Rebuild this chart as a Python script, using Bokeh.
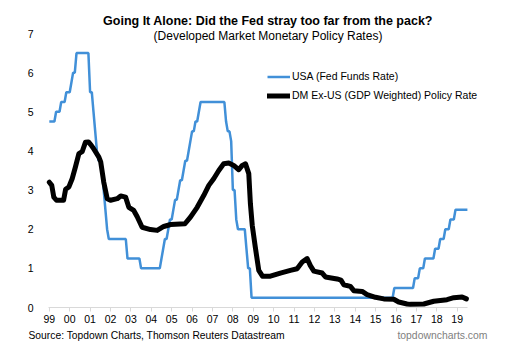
from bokeh.plotting import figure
from bokeh.models import Range1d, FixedTicker, Label, Legend, LegendItem
from bokeh.embed import file_html
from bokeh.resources import INLINE

title_text = "Going It Alone: Did the Fed stray too far from the pack?"
subtitle_text = "(Developed Market Monetary Policy Rates)"
source_text = "Source: Topdown Charts, Thomson Reuters Datastream"
brand_text = "topdowncharts.com"
series_names = ["USA (Fed Funds Rate)", "DM Ex-US (GDP Weighted) Policy Rate"]

year_ticks = list(range(1999, 2020))
year_labels = ["99", "00", "01", "02", "03", "04", "05", "06", "07", "08", "09",
               "10", "11", "12", "13", "14", "15", "16", "17", "18", "19"]
y_ticks = [0, 1, 2, 3, 4, 5, 6, 7]

# USA Fed Funds rate, monthly from Jan 1999
usa_start = 1999
usa_rate = [
    4.75, 4.75, 4.75, 4.75, 5.00, 5.00, 5.00, 5.25, 5.25, 5.25, 5.50, 5.50,  # 1999
    5.50, 5.75, 6.00, 6.00, 6.50, 6.50, 6.50, 6.50, 6.50, 6.50, 6.50, 6.50,  # 2000
    5.50, 5.50, 5.00, 4.50, 4.00, 3.75, 3.75, 3.50, 3.00, 2.50, 2.00, 1.75,  # 2001
    1.75, 1.75, 1.75, 1.75, 1.75, 1.75, 1.75, 1.75, 1.75, 1.75, 1.25, 1.25,  # 2002
    1.25, 1.25, 1.25, 1.25, 1.25, 1.25, 1.00, 1.00, 1.00, 1.00, 1.00, 1.00,  # 2003
    1.00, 1.00, 1.00, 1.00, 1.00, 1.00, 1.25, 1.50, 1.75, 1.75, 2.00, 2.25,  # 2004
    2.25, 2.50, 2.75, 2.75, 3.00, 3.25, 3.25, 3.50, 3.75, 3.75, 4.00, 4.25,  # 2005
    4.50, 4.50, 4.75, 4.75, 5.00, 5.25, 5.25, 5.25, 5.25, 5.25, 5.25, 5.25,  # 2006
    5.25, 5.25, 5.25, 5.25, 5.25, 5.25, 5.25, 5.25, 4.75, 4.50, 4.50, 4.25,  # 2007
    3.00, 3.00, 2.25, 2.00, 2.00, 2.00, 2.00, 2.00, 1.50, 1.00, 1.00, 0.25,  # 2008
    0.25, 0.25, 0.25, 0.25, 0.25, 0.25, 0.25, 0.25, 0.25, 0.25, 0.25, 0.25,  # 2009
    0.25, 0.25, 0.25, 0.25, 0.25, 0.25, 0.25, 0.25, 0.25, 0.25, 0.25, 0.25,  # 2010
    0.25, 0.25, 0.25, 0.25, 0.25, 0.25, 0.25, 0.25, 0.25, 0.25, 0.25, 0.25,  # 2011
    0.25, 0.25, 0.25, 0.25, 0.25, 0.25, 0.25, 0.25, 0.25, 0.25, 0.25, 0.25,  # 2012
    0.25, 0.25, 0.25, 0.25, 0.25, 0.25, 0.25, 0.25, 0.25, 0.25, 0.25, 0.25,  # 2013
    0.25, 0.25, 0.25, 0.25, 0.25, 0.25, 0.25, 0.25, 0.25, 0.25, 0.25, 0.25,  # 2014
    0.25, 0.25, 0.25, 0.25, 0.25, 0.25, 0.25, 0.25, 0.25, 0.25, 0.25, 0.50,  # 2015
    0.50, 0.50, 0.50, 0.50, 0.50, 0.50, 0.50, 0.50, 0.50, 0.50, 0.50, 0.75,  # 2016
    0.75, 0.75, 1.00, 1.00, 1.00, 1.25, 1.25, 1.25, 1.25, 1.25, 1.25, 1.50,  # 2017
    1.50, 1.50, 1.75, 1.75, 1.75, 2.00, 2.00, 2.00, 2.25, 2.25, 2.25, 2.50,  # 2018
    2.50, 2.50, 2.50, 2.50, 2.50, 2.50, 2.50,                                # 2019
]

# DM ex-US GDP-weighted policy rate (dates as decimal years)
dm_dates = [
    1999.00, 1999.12, 1999.22, 1999.35, 1999.70, 1999.80, 1999.96, 2000.12,
    2000.28, 2000.45, 2000.61, 2000.77, 2000.92, 2001.05, 2001.18, 2001.43,
    2001.52, 2001.67, 2001.84, 2002.00, 2002.33, 2002.50, 2002.74, 2002.90,
    2003.14, 2003.31, 2003.55, 2003.96, 2004.29, 2004.61, 2004.95, 2005.65,
    2005.92, 2006.25, 2006.57, 2006.82, 2007.06, 2007.31, 2007.55, 2007.80,
    2008.04, 2008.29, 2008.46, 2008.62, 2008.78, 2008.86, 2008.95, 2009.10,
    2009.27, 2009.45, 2009.84, 2010.33, 2010.82, 2011.15, 2011.40, 2011.64,
    2011.80, 2011.97, 2012.38, 2012.54, 2013.11, 2013.30, 2013.44, 2013.76,
    2013.93, 2014.34, 2014.58, 2014.99, 2015.40, 2015.89, 2016.13, 2016.54,
    2016.70, 2017.36, 2017.85, 2018.50, 2018.83, 2019.24, 2019.45,
]
dm_rate = [
    3.20, 3.12, 2.82, 2.74, 2.74, 3.02, 3.08, 3.29,
    3.59, 3.93, 3.98, 4.22, 4.23, 4.15, 4.05, 3.84,
    3.72, 3.20, 2.78, 2.74, 2.78, 2.85, 2.82, 2.56,
    2.48, 2.32, 2.05, 1.99, 1.97, 2.07, 2.12, 2.14,
    2.31, 2.56, 2.86, 3.12, 3.29, 3.50, 3.67, 3.69,
    3.63, 3.52, 3.63, 3.67, 3.42, 2.65, 2.10, 1.54,
    0.95, 0.80, 0.80, 0.88, 0.95, 0.99, 1.16, 1.25,
    1.07, 0.93, 0.88, 0.78, 0.73, 0.70, 0.58, 0.54,
    0.43, 0.41, 0.33, 0.26, 0.22, 0.21, 0.14, 0.09,
    0.08, 0.09, 0.16, 0.20, 0.25, 0.27, 0.22,
]

usa_dates = [usa_start + i / 12 for i in range(len(usa_rate))]

FONT = "Liberation Sans"

# ---- layout geometry (pixels) ----
W, H = 524, 362
axis_x0, axis_x1 = 1998.96, 2019.48     # visible extent of the x axis
axis_left_px, axis_right_px = 48.0, 466.5
zero_px, seven_px = 307.0, 33.0          # page y of value 0 and value 7
px_per_year = (axis_right_px - axis_left_px) / (axis_x1 - axis_x0)
px_per_unit = (zero_px - seven_px) / 7.0
x_start = axis_x0 - axis_left_px / px_per_year
x_end = axis_x0 + (W - axis_left_px) / px_per_year
y_end = zero_px / px_per_unit
y_start = -(H - zero_px) / px_per_unit

p = figure(width=W, height=H, output_backend="svg", toolbar_location=None,
           title=None, x_range=Range1d(x_start, x_end),
           y_range=Range1d(y_start, y_end),
           min_border=0, min_border_left=0, min_border_right=0,
           min_border_top=0, min_border_bottom=0)
p.outline_line_color = None
p.xgrid.visible = False
p.ygrid.visible = False
p.background_fill_color = "white"
p.border_fill_color = "white"

r_us = p.line(usa_dates, usa_rate, line_color="#4190d8", line_width=2.5)
r_dm = p.line(dm_dates, dm_rate, line_color="#000000", line_width=5,
              line_join="round", line_cap="round")

xa = p.xaxis[0]
xa.fixed_location = 0
xa.bounds = (axis_x0, axis_x1)
xa.ticker = FixedTicker(ticks=year_ticks)
xa.major_label_overrides = {t: l for t, l in zip(year_ticks, year_labels)}
xa.axis_line_color = "#d9d9d9"
xa.major_tick_line_color = "#d9d9d9"
xa.major_tick_out = 4
xa.major_tick_in = 0
xa.minor_tick_line_color = None
xa.major_label_standoff = 3
xa.major_label_text_font = FONT
xa.major_label_text_font_size = "10.5px"
xa.major_label_text_color = "#000000"

ya = p.yaxis[0]
ya.fixed_location = axis_x0
ya.bounds = (0, 7)
ya.ticker = FixedTicker(ticks=y_ticks)
ya.axis_line_color = None
ya.major_tick_line_color = None
ya.minor_tick_line_color = None
ya.major_label_standoff = 9
ya.major_label_text_font = FONT
ya.major_label_text_font_size = "10.5px"
ya.major_label_text_color = "#000000"

legend = Legend(items=[LegendItem(label=series_names[0], renderers=[r_us]),
                       LegendItem(label=series_names[1], renderers=[r_dm])],
                location=(267, H - 104.5), orientation="vertical",
                border_line_color=None, background_fill_alpha=0,
                padding=0, margin=0, spacing=0,
                glyph_width=23, glyph_height=19, label_height=19,
                label_standoff=2, label_text_font=FONT,
                label_text_font_size="10.5px", label_text_color="#000000")
p.add_layout(legend)

p.add_layout(Label(x=267.5, y=H - 20.5, x_units="screen", y_units="screen",
                   text=title_text, text_align="center", text_baseline="middle",
                   text_font=FONT, text_font_size="12.5px", text_font_style="bold",
                   text_color="#000000"))
p.add_layout(Label(x=267.5, y=H - 35.5, x_units="screen", y_units="screen",
                   text=subtitle_text, text_align="center", text_baseline="middle",
                   text_font=FONT, text_font_size="12px", text_color="#000000"))
p.add_layout(Label(x=28, y=H - 335, x_units="screen", y_units="screen",
                   text=source_text, text_align="left", text_baseline="middle",
                   text_font=FONT, text_font_size="10.3px", text_color="#000000"))
p.add_layout(Label(x=487, y=H - 335, x_units="screen", y_units="screen",
                   text=brand_text, text_align="right", text_baseline="middle",
                   text_font=FONT, text_font_size="10.4px", text_color="#808080"))

open("out.html", "w").write(file_html(p, INLINE))
